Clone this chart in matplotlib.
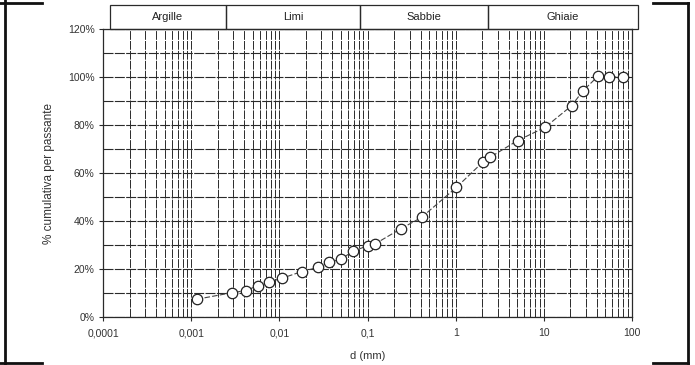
import matplotlib
matplotlib.use("Agg")
import matplotlib.pyplot as plt
from matplotlib.lines import Line2D
from matplotlib.patches import Rectangle
from matplotlib.ticker import FixedLocator, LogLocator, NullFormatter, FixedFormatter
import numpy as np

plt.rcParams['font.family'] = ['Liberation Sans', 'DejaVu Sans']

# data: grain diameter (mm) and cumulative passing (%)
diam = [0.00116, 0.00288, 0.00415, 0.00568, 0.0077, 0.0106, 0.0179, 0.0276, 0.0365,
        0.0496, 0.0689, 0.100, 0.121, 0.237, 0.41, 1.02, 2.05, 2.44, 5.03, 10.3,
        20.6, 27.9, 41.3, 54.6, 79.4]
passing = [7.4, 10.1, 11.0, 13.0, 14.6, 16.1, 18.9, 20.7, 22.8, 24.0, 27.5, 29.6, 30.4,
           36.7, 41.5, 54.0, 64.7, 66.5, 73.5, 79.0, 88.0, 94.3, 100.4, 100.0, 100.0]

x_ticks = [0.0001, 0.001, 0.01, 0.1, 1, 10, 100]
x_labels = ["0,0001", "0,001", "0,01", "0,1", "1", "10", "100"]
y_ticks = [0, 20, 40, 60, 80, 100, 120]
y_labels = ["0%", "20%", "40%", "60%", "80%", "100%", "120%"]

classes = ["Argille", "Limi", "Sabbie", "Ghiaie"]
class_edges = [0.00012, 0.00248, 0.082, 2.32, 116]

W, H = 695, 365
fig = plt.figure(figsize=(W / 100, H / 100), dpi=100)
ax = fig.add_axes([103 / W, 1 - 317 / H, (632 - 103) / W, (317 - 29) / H])
ax.set_xscale('log')
ax.set_xlim(1e-4, 100)
ax.set_ylim(0, 120)

gc = '#2a2a2a'
dash = (0, (9, 1.2))
# grid lines
ax.xaxis.set_major_locator(FixedLocator(x_ticks))
ax.xaxis.set_minor_locator(LogLocator(base=10, subs=np.arange(2, 10)))
ax.xaxis.set_minor_formatter(NullFormatter())
ax.xaxis.set_major_formatter(FixedFormatter(x_labels))
ax.yaxis.set_major_locator(FixedLocator(y_ticks))
ax.yaxis.set_major_formatter(FixedFormatter(y_labels))
ax.yaxis.set_minor_locator(FixedLocator([10, 30, 50, 70, 90, 110]))
ax.grid(True, which='both', axis='x', color=gc, lw=0.7, linestyle=dash)
ax.grid(True, which='both', axis='y', color=gc, lw=0.8, linestyle=dash)
ax.tick_params(axis='both', which='major', labelsize=7.5, labelcolor='#333333',
               length=3, width=0.8, color=gc)
ax.tick_params(axis='both', which='minor', length=0)
ax.tick_params(axis='y', pad=3)
ax.tick_params(axis='x', pad=5)
for s in ax.spines.values():
    s.set_color(gc)
    s.set_linewidth(0.9)

ax.plot(diam, passing, color='#444444', lw=0.8, linestyle=(0, (5, 2)),
        marker='o', markersize=7.5, markerfacecolor='white',
        markeredgecolor='#222222', markeredgewidth=0.9, zorder=5, clip_on=False)

ax.set_ylabel("% cumulativa per passante", fontsize=8.5, color='#333333', labelpad=9)
ax.set_xlabel("d (mm)", fontsize=8, color='#333333', labelpad=9)

# header boxes with soil classes
trans = ax.get_xaxis_transform()
for i, name in enumerate(classes):
    x0, x1 = class_edges[i], class_edges[i + 1]
    r = Rectangle((x0, 1.0), x1 - x0, 24 / 288, transform=trans, fill=False,
                  edgecolor=gc, lw=0.9, clip_on=False)
    ax.add_patch(r)
    xm = np.sqrt(x0 * x1)
    ax.text(xm, 1.0 + 12 / 288, name, transform=trans, ha='center', va='center',
            fontsize=8, color='#222222', clip_on=False)

# page frame (table cell borders)
lw = 2.0
fig.add_artist(Line2D([5 / W, 5 / W], [0, 1], color='#111111', lw=lw, transform=fig.transFigure))
fig.add_artist(Line2D([0, 42 / W], [1 - 3 / H, 1 - 3 / H], color='#111111', lw=lw, transform=fig.transFigure))
fig.add_artist(Line2D([0, 42 / W], [1 - 363 / H, 1 - 363 / H], color='#111111', lw=lw, transform=fig.transFigure))
fig.add_artist(Line2D([688 / W, 688 / W], [1 - 363 / H, 1 - 3 / H], color='#111111', lw=lw, transform=fig.transFigure))
fig.add_artist(Line2D([653 / W, 688 / W], [1 - 3 / H, 1 - 3 / H], color='#111111', lw=lw, transform=fig.transFigure))
fig.add_artist(Line2D([653 / W, 688 / W], [1 - 363 / H, 1 - 363 / H], color='#111111', lw=lw, transform=fig.transFigure))

fig.savefig("out.png", dpi=100)
